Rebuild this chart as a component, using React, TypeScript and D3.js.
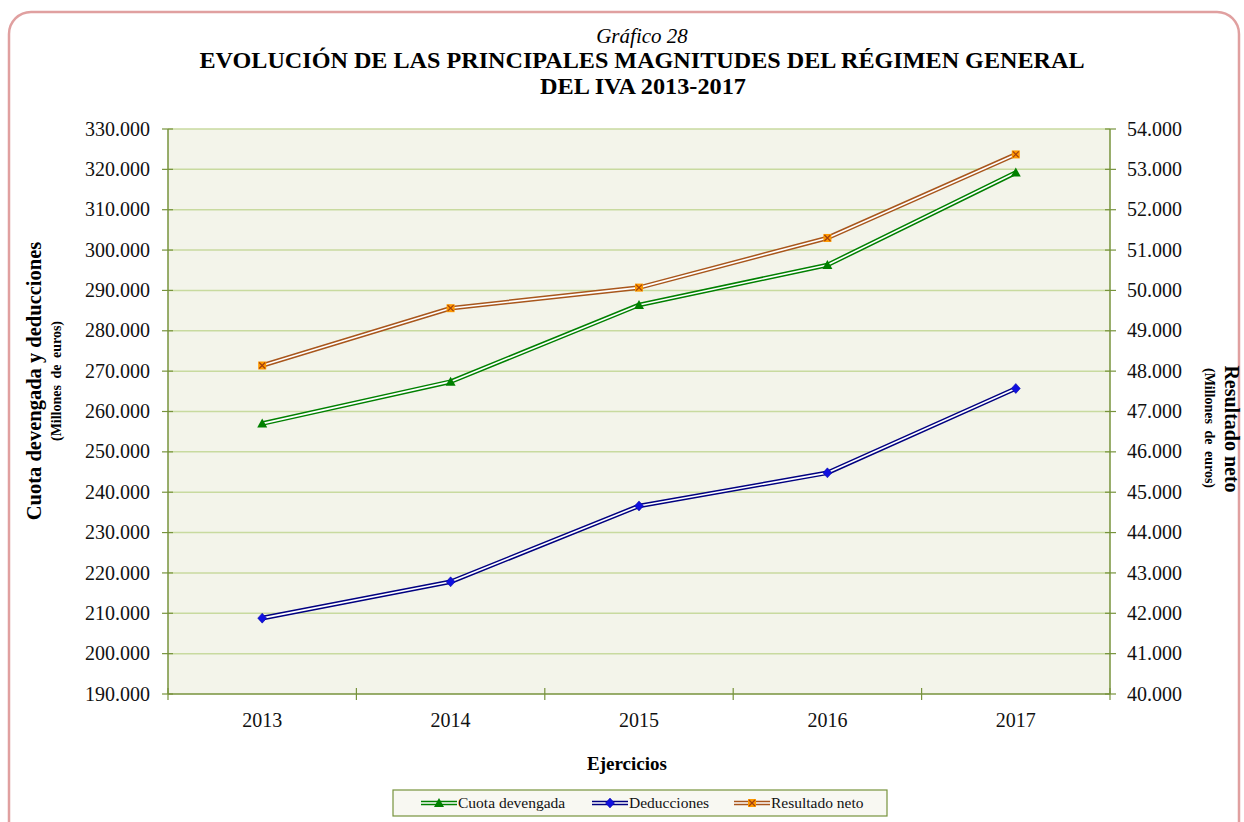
import React from 'react';
import * as d3 from 'd3';

const years = ['2013', '2014', '2015', '2016', '2017'];
// millones de euros
const cuotaDevengada = [257000, 267400, 286400, 296300, 319200];
const deducciones = [208800, 217800, 236600, 244800, 265700];
const resultadoNeto = [48140, 49560, 50070, 51300, 53370];

const leftTicks = d3.range(190000, 330001, 10000);
const rightTicks = d3.range(40000, 54001, 1000);

const W = 1244;
const H = 822;
const plot = { left: 168, right: 1110, top: 129, bottom: 694 };
const serif = '"Liberation Serif", "Times New Roman", serif';

const esLocale = d3.formatLocale({ decimal: ',', thousands: '.', grouping: [3], currency: ['', ' €'] });
const fmt = esLocale.format(',.0f');

const axisColor = '#77933c';
const gridColor = '#c8da9f';

const x = d3.scaleBand<string>().domain(years).range([plot.left, plot.right]).padding(0);
const cx = (y: string) => (x(y) as number) + x.bandwidth() / 2;
const yLeft = d3.scaleLinear().domain([190000, 330000]).range([plot.bottom, plot.top]);
const yRight = d3.scaleLinear().domain([40000, 54000]).range([plot.bottom, plot.top]);

const series = [
  { name: 'Cuota devengada', values: cuotaDevengada, scale: yLeft, line: '#008000', marker: 'triangle', fill: '#008000' },
  { name: 'Deducciones', values: deducciones, scale: yLeft, line: '#000080', marker: 'diamond', fill: '#1010e0' },
  { name: 'Resultado neto', values: resultadoNeto, scale: yRight, line: '#a8561c', marker: 'square', fill: '#ff9900' },
];

const Marker = ({ type, x, y, fill }: { type: string; x: number; y: number; fill: string }) => {
  if (type === 'triangle') {
    return <path d={`M${x},${y - 5}L${x + 5},${y + 4}L${x - 5},${y + 4}Z`} fill={fill} />;
  }
  if (type === 'diamond') {
    return <path d={`M${x},${y - 5}L${x + 4.5},${y}L${x},${y + 5}L${x - 4.5},${y}Z`} fill={fill} stroke="#0000a0" strokeWidth={0.5} />;
  }
  return (
    <g>
      <rect x={x - 4} y={y - 4} width={8} height={8} fill={fill} />
      <path d={`M${x - 3},${y - 3}L${x + 3},${y + 3}M${x + 3},${y - 3}L${x - 3},${y + 3}`} stroke="#a04010" strokeWidth={1.2} />
    </g>
  );
};

const DoubleLine = ({ d, color }: { d: string; color: string }) => (
  <g fill="none" strokeLinejoin="round">
    <path d={d} stroke={color} strokeWidth={4.6} />
    <path d={d} stroke="#ffffff" strokeWidth={1.6} />
  </g>
);

const App = () => {
  const legendItems = [
    { s: series[0], x: 421 },
    { s: series[1], x: 592 },
    { s: series[2], x: 734 },
  ];

  return (
    <svg width={W} height={H} style={{ position: 'absolute', left: 0, top: 0 }} fontFamily={serif}>
      <rect x={0} y={0} width={W} height={H} fill="#ffffff" />
      {/* marco */}
      <rect x={9} y={12} width={1230} height={840} rx={22} ry={22} fill="none" stroke="#e0a0a0" strokeWidth={2.5} />

      {/* títulos */}
      <text x={642} y={43} textAnchor="middle" fontSize={21} fontStyle="italic">Gráfico 28</text>
      <text x={642} y={68} textAnchor="middle" fontSize={24} fontWeight="bold" textLength={885} lengthAdjust="spacingAndGlyphs">
        EVOLUCIÓN DE LAS PRINCIPALES MAGNITUDES DEL RÉGIMEN GENERAL
      </text>
      <text x={643} y={94} textAnchor="middle" fontSize={24} fontWeight="bold" textLength={206} lengthAdjust="spacingAndGlyphs">
        DEL IVA 2013-2017
      </text>

      {/* área del gráfico */}
      <rect x={plot.left} y={plot.top} width={plot.right - plot.left} height={plot.bottom - plot.top} fill="#f3f4ea" />
      {leftTicks.slice(1).map((t) => (
        <line key={t} x1={plot.left} x2={plot.right} y1={yLeft(t)} y2={yLeft(t)} stroke={gridColor} strokeWidth={1.5} />
      ))}

      {/* ejes */}
      <line x1={plot.left} x2={plot.left} y1={plot.top} y2={plot.bottom} stroke={axisColor} strokeWidth={1.5} />
      <line x1={plot.right} x2={plot.right} y1={plot.top} y2={plot.bottom} stroke={axisColor} strokeWidth={1.5} />
      <line x1={plot.left} x2={plot.right} y1={plot.bottom} y2={plot.bottom} stroke={axisColor} strokeWidth={1.5} />
      {leftTicks.map((t) => (
        <g key={t}>
          <line x1={plot.left - 6} x2={plot.left + 5} y1={yLeft(t)} y2={yLeft(t)} stroke={axisColor} strokeWidth={1.2} />
          <text x={150} y={yLeft(t)} dy="0.33em" textAnchor="end" fontSize={20} fill="#111">{fmt(t)}</text>
        </g>
      ))}
      {rightTicks.map((t) => (
        <g key={t}>
          <line x1={plot.right - 5} x2={plot.right + 6} y1={yRight(t)} y2={yRight(t)} stroke={axisColor} strokeWidth={1.2} />
          <text x={1127} y={yRight(t)} dy="0.33em" textAnchor="start" fontSize={20} fill="#111">{fmt(t)}</text>
        </g>
      ))}
      {years.map((yr) => (
        <g key={yr}>
          <line x1={x(yr) as number} x2={x(yr) as number} y1={plot.bottom - 6} y2={plot.bottom + 6} stroke={axisColor} strokeWidth={1.2} />
          <text x={cx(yr)} y={727} textAnchor="middle" fontSize={20} fill="#111">{yr}</text>
        </g>
      ))}
      <line x1={plot.right} x2={plot.right} y1={plot.bottom - 6} y2={plot.bottom + 6} stroke={axisColor} strokeWidth={1.2} />

      {/* títulos de ejes */}
      <text transform="translate(41,381) rotate(-90)" textAnchor="middle" fontSize={20.5} fontWeight="bold">Cuota devengada y deducciones</text>
      <text transform="translate(61,381) rotate(-90)" textAnchor="middle" fontSize={14} fontWeight="bold" wordSpacing={3}>(Millones de euros)</text>
      <text transform="translate(1225,429) rotate(90)" textAnchor="middle" fontSize={20} fontWeight="bold">Resultado neto</text>
      <text transform="translate(1205,428) rotate(90)" textAnchor="middle" fontSize={14} fontWeight="bold" wordSpacing={3}>(Millones de euros)</text>
      <text x={627} y={770} textAnchor="middle" fontSize={19} fontWeight="bold">Ejercicios</text>

      {/* series */}
      {series.map((s) => {
        const gen = d3.line<number>().x((_, i) => cx(years[i])).y((v) => s.scale(v));
        return (
          <g key={s.name}>
            <DoubleLine d={gen(s.values) as string} color={s.line} />
            {s.values.map((v, i) => (
              <Marker key={i} type={s.marker} x={cx(years[i])} y={s.scale(v)} fill={s.fill} />
            ))}
          </g>
        );
      })}

      {/* leyenda */}
      <rect x={393} y={790} width={494} height={26} fill="#f8f8f2" stroke={axisColor} strokeWidth={1.2} />
      {legendItems.map(({ s, x: lx }) => (
        <g key={s.name}>
          <DoubleLine d={`M${lx},${803}L${lx + 36},${803}`} color={s.line} />
          <Marker type={s.marker} x={lx + 18} y={803} fill={s.fill} />
          <text x={lx + 37} y={808} fontSize={15.5} fill="#111">{s.name}</text>
        </g>
      ))}
    </svg>
  );
};

export default App;
